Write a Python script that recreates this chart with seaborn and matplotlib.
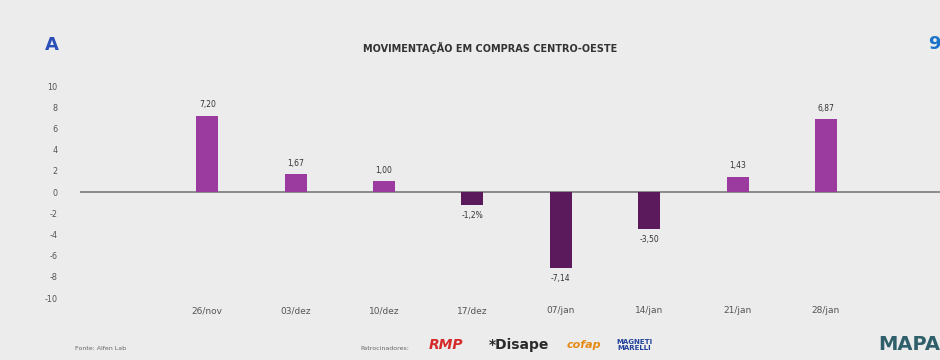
import matplotlib
matplotlib.use("Agg")
import matplotlib.pyplot as plt
import seaborn as sns
import pandas as pd

# Weekly purchase movement, Centro-Oeste region (%)
semanas = ["26/nov", "03/dez", "10/dez", "17/dez", "07/jan", "14/jan", "21/jan", "28/jan"]
variacao = [7.20, 1.67, 1.00, -1.2, -7.14, -3.50, 1.43, 6.87]
rotulos = ["7,20", "1,67", "1,00", "-1,2%", "-7,14", "-3,50", "1,43", "6,87"]
ticks_y = [-10, -8, -6, -4, -2, 0, 2, 4, 6, 8, 10]

titulo = "MOVIMENTAÇÃO EM COMPRAS CENTRO-OESTE"
fonte = "Fonte: Alfen Lab"
patrocinio = "Patrocinadores:"

BG = "#ececec"
POS = "#9b3a9f"
NEG = "#5a1a5c"

sns.set_theme(style="white")
plt.rcParams["font.family"] = ["DejaVu Sans"]

df = pd.DataFrame({"semana": semanas, "valor": variacao})
df["sinal"] = ["pos" if v >= 0 else "neg" for v in variacao]

fig = plt.figure(figsize=(9.4, 3.6), dpi=100, facecolor=BG)
ax = fig.add_axes([80 / 940, 62 / 360, 860 / 940, 212 / 360])
ax.set_facecolor(BG)

sns.barplot(data=df, x="semana", y="valor", hue="sinal",
            palette={"pos": POS, "neg": NEG}, order=semanas,
            width=0.25, dodge=False, legend=False, ax=ax, saturation=1,
            edgecolor="none", linewidth=0)

ax.set_ylim(-10, 10)
ax.set_xlim(-1.44, 8.29)
ax.set_yticks(ticks_y)
ax.set_yticklabels([str(t) for t in ticks_y], fontsize=6.5, color="#555555",
                   fontstretch="condensed")
ax.tick_params(axis="y", pad=16, length=0)
ax.tick_params(axis="x", length=0, pad=6, labelsize=6.5, labelcolor="#555555")
ax.set_xlabel("")
ax.set_ylabel("")
for s in ax.spines.values():
    s.set_visible(False)
ax.axhline(0, color="#8a8a8a", lw=1.4, zorder=0)

for i, (v, t) in enumerate(zip(variacao, rotulos)):
    off = 0.6 if v >= 0 else -0.6
    ax.text(i, v + off, t, ha="center", va="bottom" if v >= 0 else "top",
            fontsize=5.5, color="#333333")

# header
fig.text(490 / 940, 1 - 48 / 360, titulo, ha="center", va="center",
         fontsize=7, fontweight="bold", color="#333333")
fig.text(52 / 940, 1 - 45 / 360, "A", ha="center", va="center",
         fontsize=13, fontweight="bold", color="#2b4fb8")
fig.text(934 / 940, 1 - 44 / 360, "9", ha="center", va="center",
         fontsize=13, fontweight="bold", color="#1a73c9")

# footer
fig.text(75 / 940, 1 - 349 / 360, fonte, ha="left", va="center",
         fontsize=4.5, color="#666666")
fig.text(360 / 940, 1 - 349 / 360, patrocinio, ha="left", va="center",
         fontsize=4.5, color="#666666")
fig.text(446 / 940, 1 - 345 / 360, "RMP", ha="center", va="center",
         fontsize=10, fontweight="bold", fontstyle="italic", color="#d42a2a")
fig.text(519 / 940, 1 - 345 / 360, "*Disape", ha="center", va="center",
         fontsize=10, fontweight="bold", color="#2a2a2a")
fig.text(584 / 940, 1 - 345 / 360, "cofap", ha="center", va="center",
         fontsize=8, fontweight="bold", fontstyle="italic", color="#e58a12")
fig.text(634 / 940, 1 - 345 / 360, "MAGNETI\nMARELLI", ha="center", va="center",
         fontsize=5, fontweight="bold", color="#1f3f9a", linespacing=0.9)
fig.text(940 / 940, 1 - 345 / 360, "MAPA", ha="right", va="center",
         fontsize=14, fontweight="bold", color="#2f5f6a")

fig.savefig("out.png", dpi=100, facecolor=BG)
